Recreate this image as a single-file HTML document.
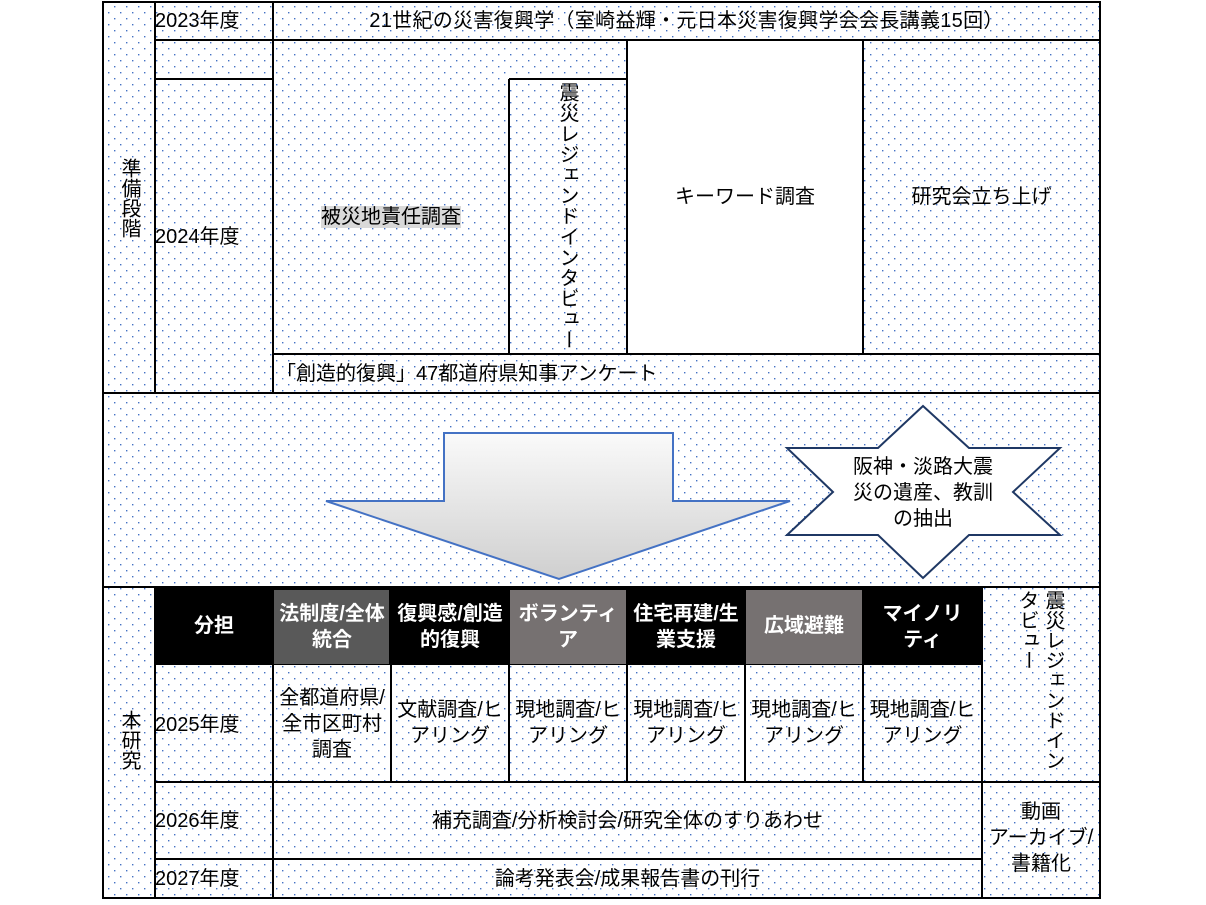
<!DOCTYPE html>
<html><head><meta charset="utf-8"><style>
html,body{margin:0;padding:0;background:#fff;}
body{width:1206px;height:905px;position:relative;overflow:hidden;font-family:"Liberation Sans","Noto Sans CJK JP",sans-serif;color:#000;}
.t{position:absolute;font-size:20px;line-height:24px;white-space:nowrap;}
.c{text-align:center;}
.v{writing-mode:vertical-rl;text-orientation:upright;}
.w{color:#fff;font-weight:bold;}
</style></head><body>
<svg width="1206" height="905" style="position:absolute;left:0;top:0">
<defs>
<pattern id="d" width="12" height="12" patternUnits="userSpaceOnUse">
<rect x="0" y="0" width="1.4" height="1.4" fill="#4472c4"/>
<rect x="6" y="6" width="1.4" height="1.4" fill="#4472c4"/>
</pattern>
<linearGradient id="g" x1="0" y1="0" x2="0" y2="1">
<stop offset="0" stop-color="#fafafa"/><stop offset="1" stop-color="#cfcfcf"/>
</linearGradient>
</defs>
<rect x="103" y="2" width="997" height="896" fill="url(#d)"/>
<rect x="627" y="40" width="236" height="314" fill="#fff"/>
<rect x="155" y="587" width="827" height="78" fill="#000"/>
<rect x="274" y="590" width="115" height="74" fill="#595959"/>
<rect x="510" y="590" width="116" height="74" fill="#767171"/>
<rect x="746" y="590" width="116" height="74" fill="#767171"/>
<g stroke="#000" stroke-width="2" fill="none">
<rect x="103" y="2" width="997" height="896"/>
<line x1="155" y1="2" x2="155" y2="393"/>
<line x1="273" y1="2" x2="273" y2="393"/>
<line x1="155" y1="40" x2="1100" y2="40"/>
<line x1="155" y1="79" x2="273" y2="79"/>
<line x1="627" y1="40" x2="627" y2="354"/>
<line x1="863" y1="40" x2="863" y2="354"/>
<line x1="509" y1="79" x2="627" y2="79"/>
<line x1="509" y1="79" x2="509" y2="354"/>
<line x1="273" y1="354" x2="1100" y2="354"/>
<line x1="103" y1="393" x2="1100" y2="393"/>
<line x1="103" y1="587" x2="1100" y2="587"/>
<line x1="155" y1="587" x2="155" y2="898"/>
<line x1="273" y1="665" x2="273" y2="898"/>
<line x1="391" y1="665" x2="391" y2="782"/>
<line x1="509" y1="665" x2="509" y2="782"/>
<line x1="627" y1="665" x2="627" y2="782"/>
<line x1="745" y1="665" x2="745" y2="782"/>
<line x1="863" y1="665" x2="863" y2="782"/>
<line x1="982" y1="587" x2="982" y2="898"/>
<line x1="155" y1="782" x2="1100" y2="782"/>
<line x1="155" y1="859" x2="982" y2="859"/>
</g>
<polygon points="444,433 673,433 673,501 790,501 559,579 326,501 444,501" fill="url(#g)" stroke="#4472c4" stroke-width="2"/>
<polygon points="923,406 969,448 1060,448 1013,492 1060,535 969,535 923,578 878,535 787,535 833,492 787,448 878,448" fill="#fff" stroke="#1f3864" stroke-width="2"/>
</svg>
<div class="t" style="left:155px;top:9px">2023年度</div>
<div class="t c" style="left:273px;top:9px;width:827px;letter-spacing:0.3px">21世紀の災害復興学（室崎益輝・元日本災害復興学会会長講義15回）</div>
<div class="t v" style="left:117px;top:158px;width:24px;line-height:24px">準備段階</div>
<div class="t" style="left:155px;top:225px">2024年度</div>
<div class="t c" style="left:273px;top:205px;width:236px"><span style="background:#d9d9d9">被災地責任調査</span></div>
<div class="t v" style="left:555px;top:82px;width:24px;letter-spacing:0.6px">震災レジェンドインタビュー</div>
<div class="t c" style="left:627px;top:185px;width:236px">キーワード調査</div>
<div class="t c" style="left:863px;top:185px;width:237px">研究会立ち上げ</div>
<div class="t" style="left:276px;top:362px">「創造的復興」47都道府県知事アンケート</div>
<div class="t c" style="left:823px;top:454px;width:200px;line-height:26px">阪神・淡路大震<br>災の遺産、教訓<br>の抽出</div>
<div class="t c w" style="left:155px;top:614px;width:118px">分担</div>
<div class="t c w" style="left:273px;top:601px;width:118px;line-height:26px">法制度/全体<br>統合</div>
<div class="t c w" style="left:391px;top:601px;width:118px;line-height:26px">復興感/創造<br>的復興</div>
<div class="t c w" style="left:509px;top:601px;width:118px;line-height:26px">ボランティ<br>ア</div>
<div class="t c w" style="left:627px;top:601px;width:118px;line-height:26px">住宅再建/生<br>業支援</div>
<div class="t c w" style="left:745px;top:614px;width:118px">広域避難</div>
<div class="t c w" style="left:863px;top:601px;width:119px;line-height:26px">マイノリ<br>ティ</div>
<div class="t v" style="left:117px;top:710px;width:24px">本研究</div>
<div class="t" style="left:155px;top:713px">2025年度</div>
<div class="t c" style="left:273px;top:685px;width:118px;line-height:26px">全都道府県/<br>全市区町村<br>調査</div>
<div class="t c" style="left:391px;top:697px;width:118px;line-height:26px">文献調査/ヒ<br>アリング</div>
<div class="t c" style="left:509px;top:697px;width:118px;line-height:26px">現地調査/ヒ<br>アリング</div>
<div class="t c" style="left:627px;top:697px;width:118px;line-height:26px">現地調査/ヒ<br>アリング</div>
<div class="t c" style="left:745px;top:697px;width:118px;line-height:26px">現地調査/ヒ<br>アリング</div>
<div class="t c" style="left:863px;top:697px;width:119px;line-height:26px">現地調査/ヒ<br>アリング</div>
<div class="t v" style="left:1014px;top:590px;height:195px;line-height:26px">震災レジェンドイン<br>タビュー</div>
<div class="t" style="left:155px;top:809px">2026年度</div>
<div class="t c" style="left:273px;top:809px;width:709px">補充調査/分析検討会/研究全体のすりあわせ</div>
<div class="t" style="left:155px;top:867px">2027年度</div>
<div class="t c" style="left:273px;top:867px;width:709px">論考発表会/成果報告書の刊行</div>
<div class="t c" style="left:982px;top:799px;width:118px;line-height:26px">動画<br>アーカイブ/<br>書籍化</div>
</body></html>
